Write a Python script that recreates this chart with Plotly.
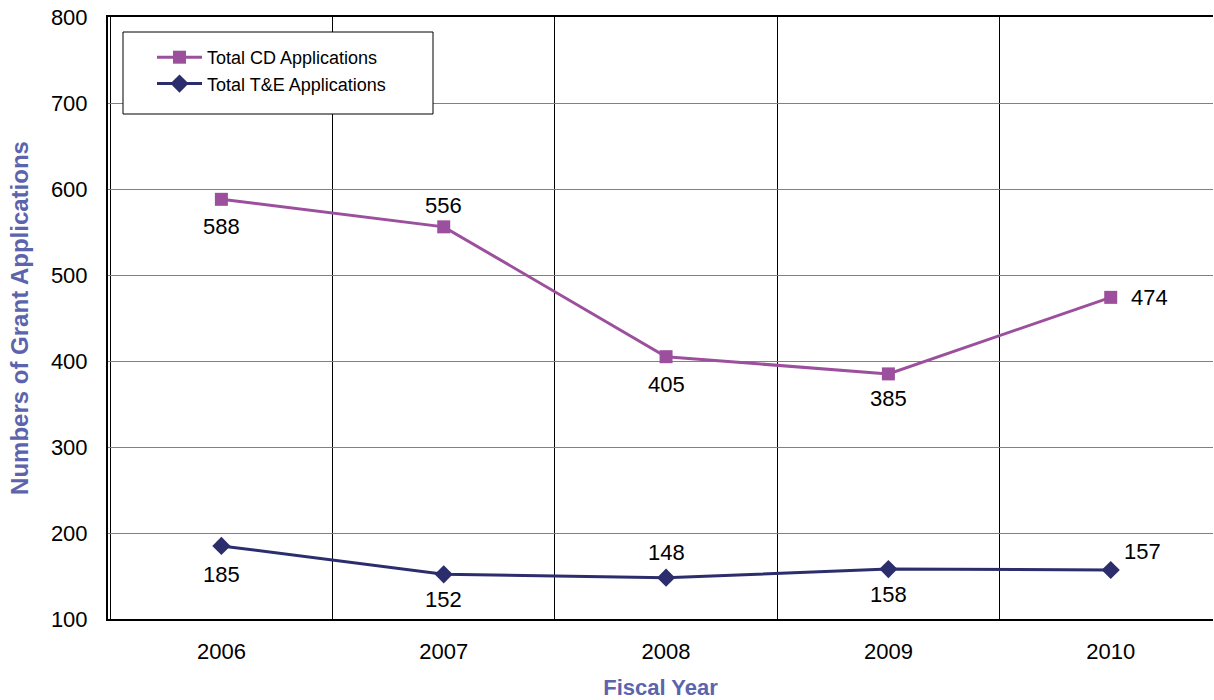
import plotly.graph_objects as go

# ---- data ----
years = ["2006", "2007", "2008", "2009", "2010"]
cd_values = [588, 556, 405, 385, 474]
te_values = [185, 152, 148, 158, 157]

# ---- label offsets (pixels), style only ----
cd_label_dx = [0, 0, 0, 0, 39]
cd_label_dy = [-27, 21, -28, -25, 0]
te_label_dx = [0, 0, 0, 0, 32]
te_label_dy = [-29, -25, 25, -25, 18]

CD_COLOR = "#9c4f9c"
TE_COLOR = "#2c2d6c"
TITLE_COLOR = "#5b64ad"
FONT = "Liberation Sans, Arial, Helvetica, sans-serif"

fig = go.Figure()
fig.add_trace(go.Scatter(
    x=years, y=cd_values, name="Total CD Applications",
    mode="lines+markers",
    line=dict(color=CD_COLOR, width=3),
    marker=dict(symbol="square", size=13, color=CD_COLOR),
))
fig.add_trace(go.Scatter(
    x=years, y=te_values, name="Total T&E Applications",
    mode="lines+markers",
    line=dict(color=TE_COLOR, width=3),
    marker=dict(symbol="diamond", size=14, color=TE_COLOR),
))

annotations = []
for vals, dxs, dys in [(cd_values, cd_label_dx, cd_label_dy),
                       (te_values, te_label_dx, te_label_dy)]:
    for i, (v, dx, dy) in enumerate(zip(vals, dxs, dys)):
        annotations.append(dict(
            x=i, y=v, xref="x", yref="y", text=str(v), showarrow=False,
            xshift=dx, yshift=dy, font=dict(size=22, color="black", family=FONT),
        ))

# plot area in pixels: x 108..1213, y 17..619
PW, PH = 1105, 602
def px(x):
    return (x - 108) / PW
def py(y):
    return (619 - y) / PH

fig.update_layout(
    width=1214, height=700,
    margin=dict(l=108, r=1, t=17, b=81),
    paper_bgcolor="white", plot_bgcolor="white",
    font=dict(family=FONT, color="black"),
    showlegend=True,
    legend=dict(
        x=px(152), y=py(39), xanchor="left", yanchor="top",
        borderwidth=0, bgcolor="rgba(0,0,0,0)",
        font=dict(size=18, family=FONT), itemwidth=45,
    ),
    annotations=annotations,
    shapes=[dict(type="rect", xref="paper", yref="paper",
                 x0=px(123), x1=px(433), y0=py(114), y1=py(32),
                 line=dict(color="black", width=1), fillcolor="white", layer="above")],
)
fig.update_xaxes(
    type="category", tickson="boundaries", range=[-0.51, 4.46],
    showgrid=True, gridcolor="black", gridwidth=1,
    showline=True, linecolor="black", linewidth=2, mirror=True,
    ticks="", tickfont=dict(size=22), ticklabelstandoff=12,
    title=dict(text="<b>Fiscal Year</b>", font=dict(size=22, color=TITLE_COLOR), standoff=20),
)
fig.update_yaxes(
    range=[100, 800], dtick=100,
    showgrid=True, gridcolor="#808080", gridwidth=1,
    showline=True, linecolor="black", linewidth=2, mirror=False,
    ticks="", tickfont=dict(size=22), ticklabelstandoff=14,
    zeroline=False,
    title=dict(text="<b>Numbers of Grant Applications</b>", font=dict(size=24, color=TITLE_COLOR), standoff=15),
)

fig.write_html("out.html")
